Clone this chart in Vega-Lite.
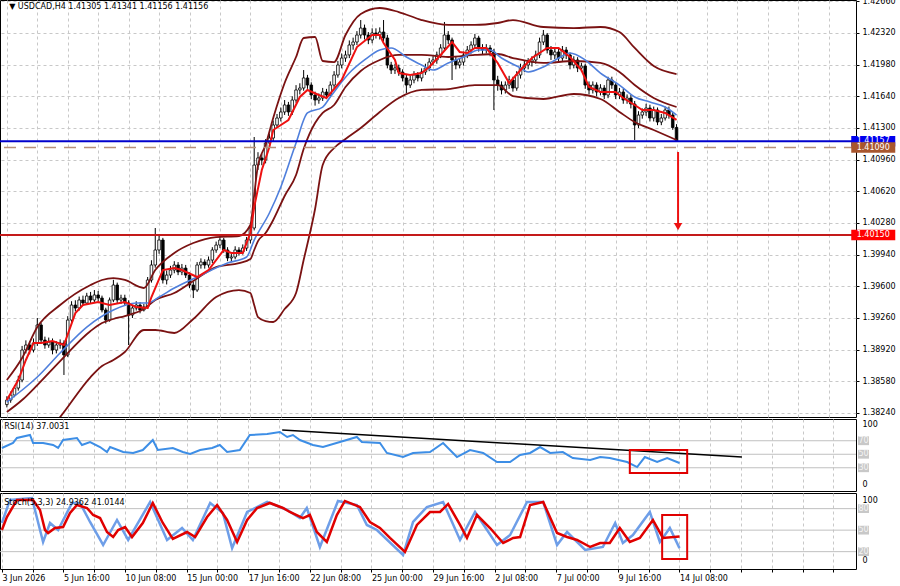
{
"$schema":"https://vega.github.io/schema/vega-lite/v6.json",
"padding":{"left":-4,"top":-4,"right":0,"bottom":0},
"background":"#ffffff",
"spacing":2,
"bounds":"flush",
"config":{"view":{"stroke":"#000000","strokeWidth":1},"axis":{"labelFont":"DejaVu Sans","labelFontSize":8,"labelColor":"#000000","tickColor":"#000000","domain":false,"gridColor":"#c8c8c8","gridDash":[3,3]},"text":{"font":"DejaVu Sans"}},
"datasets":{
"candles":[
{"i":0,"o":1.38330,"h":1.38420,"l":1.38300,"c":1.38379},{"i":1,"o":1.38379,"h":1.38470,"l":1.38350,"c":1.38433},{"i":2,"o":1.38433,"h":1.38540,"l":1.38410,"c":1.38508},{"i":3,"o":1.38508,"h":1.38640,"l":1.38480,"c":1.38594},{"i":4,"o":1.38594,"h":1.38960,"l":1.38570,"c":1.38916},{"i":5,"o":1.38916,"h":1.39020,"l":1.38880,"c":1.38970},{"i":6,"o":1.38970,"h":1.39010,"l":1.38870,"c":1.38916},{"i":7,"o":1.38916,"h":1.39040,"l":1.38890,"c":1.38991},{"i":8,"o":1.38991,"h":1.39260,"l":1.38960,"c":1.39185},{"i":9,"o":1.39185,"h":1.39210,"l":1.38990,"c":1.39023},
{"i":10,"o":1.39023,"h":1.39060,"l":1.38930,"c":1.38970},{"i":11,"o":1.38970,"h":1.39050,"l":1.38940,"c":1.39002},{"i":12,"o":1.39002,"h":1.39040,"l":1.38870,"c":1.38916},{"i":13,"o":1.38916,"h":1.39010,"l":1.38880,"c":1.38970},{"i":14,"o":1.38970,"h":1.39030,"l":1.38930,"c":1.38991},{"i":15,"o":1.38991,"h":1.39020,"l":1.38648,"c":1.38863},{"i":16,"o":1.38863,"h":1.39280,"l":1.38840,"c":1.39238},{"i":17,"o":1.39238,"h":1.39440,"l":1.39210,"c":1.39399},{"i":18,"o":1.39399,"h":1.39450,"l":1.39330,"c":1.39367},{"i":19,"o":1.39367,"h":1.39490,"l":1.39340,"c":1.39453},
{"i":20,"o":1.39453,"h":1.39500,"l":1.39390,"c":1.39421},{"i":21,"o":1.39421,"h":1.39530,"l":1.39400,"c":1.39496},{"i":22,"o":1.39496,"h":1.39540,"l":1.39420,"c":1.39453},{"i":23,"o":1.39453,"h":1.39560,"l":1.39430,"c":1.39507},{"i":24,"o":1.39507,"h":1.39550,"l":1.39440,"c":1.39474},{"i":25,"o":1.39474,"h":1.39500,"l":1.39320,"c":1.39346},{"i":26,"o":1.39346,"h":1.39370,"l":1.39200,"c":1.39238},{"i":27,"o":1.39238,"h":1.39480,"l":1.39220,"c":1.39453},{"i":28,"o":1.39453,"h":1.39670,"l":1.39430,"c":1.39614},{"i":29,"o":1.39614,"h":1.39640,"l":1.39420,"c":1.39453},
{"i":30,"o":1.39453,"h":1.39510,"l":1.39410,"c":1.39474},{"i":31,"o":1.39474,"h":1.39510,"l":1.39390,"c":1.39421},{"i":32,"o":1.39421,"h":1.39450,"l":1.38970,"c":1.39292},{"i":33,"o":1.39292,"h":1.39400,"l":1.39260,"c":1.39367},{"i":34,"o":1.39367,"h":1.39440,"l":1.39340,"c":1.39399},{"i":35,"o":1.39399,"h":1.39430,"l":1.39310,"c":1.39346},{"i":36,"o":1.39346,"h":1.39410,"l":1.39330,"c":1.39378},{"i":37,"o":1.39378,"h":1.39700,"l":1.39360,"c":1.39668},{"i":38,"o":1.39668,"h":1.39880,"l":1.39640,"c":1.39829},{"i":39,"o":1.39829,"h":1.40226,"l":1.39800,"c":1.39990},
{"i":40,"o":1.39990,"h":1.40150,"l":1.39950,"c":1.40097},{"i":41,"o":1.40097,"h":1.40120,"l":1.39630,"c":1.39668},{"i":42,"o":1.39668,"h":1.39770,"l":1.39620,"c":1.39721},{"i":43,"o":1.39721,"h":1.39820,"l":1.39690,"c":1.39775},{"i":44,"o":1.39775,"h":1.39870,"l":1.39740,"c":1.39829},{"i":45,"o":1.39829,"h":1.39860,"l":1.39720,"c":1.39754},{"i":46,"o":1.39754,"h":1.39840,"l":1.39720,"c":1.39796},{"i":47,"o":1.39796,"h":1.39830,"l":1.39690,"c":1.39721},{"i":48,"o":1.39721,"h":1.39750,"l":1.39580,"c":1.39614},{"i":49,"o":1.39614,"h":1.39650,"l":1.39474,"c":1.39560},
{"i":50,"o":1.39560,"h":1.39860,"l":1.39540,"c":1.39829},{"i":51,"o":1.39829,"h":1.39900,"l":1.39790,"c":1.39861},{"i":52,"o":1.39861,"h":1.39890,"l":1.39790,"c":1.39829},{"i":53,"o":1.39829,"h":1.39920,"l":1.39800,"c":1.39882},{"i":54,"o":1.39882,"h":1.40020,"l":1.39850,"c":1.39990},{"i":55,"o":1.39990,"h":1.40080,"l":1.39960,"c":1.40043},{"i":56,"o":1.40043,"h":1.40151,"l":1.40010,"c":1.40097},{"i":57,"o":1.40097,"h":1.40120,"l":1.39960,"c":1.39990},{"i":58,"o":1.39990,"h":1.40020,"l":1.39870,"c":1.39904},{"i":59,"o":1.39904,"h":1.39950,"l":1.39860,"c":1.39915},
{"i":60,"o":1.39915,"h":1.40030,"l":1.39890,"c":1.39990},{"i":61,"o":1.39990,"h":1.40020,"l":1.39930,"c":1.39968},{"i":62,"o":1.39968,"h":1.40050,"l":1.39940,"c":1.40011},{"i":63,"o":1.40011,"h":1.40130,"l":1.39980,"c":1.40097},{"i":64,"o":1.40097,"h":1.40260,"l":1.40060,"c":1.40226},{"i":65,"o":1.40226,"h":1.41203,"l":1.40200,"c":1.40902},{"i":66,"o":1.40902,"h":1.41040,"l":1.40850,"c":1.40978},{"i":67,"o":1.40978,"h":1.41020,"l":1.40900,"c":1.40956},{"i":68,"o":1.40956,"h":1.41180,"l":1.40920,"c":1.41139},{"i":69,"o":1.41139,"h":1.41240,"l":1.41100,"c":1.41192},
{"i":70,"o":1.41192,"h":1.41380,"l":1.41160,"c":1.41332},{"i":71,"o":1.41332,"h":1.41450,"l":1.41300,"c":1.41407},{"i":72,"o":1.41407,"h":1.41520,"l":1.41370,"c":1.41472},{"i":73,"o":1.41472,"h":1.41600,"l":1.41440,"c":1.41547},{"i":74,"o":1.41547,"h":1.41580,"l":1.41430,"c":1.41472},{"i":75,"o":1.41472,"h":1.41640,"l":1.41440,"c":1.41600},{"i":76,"o":1.41600,"h":1.41760,"l":1.41570,"c":1.41708},{"i":77,"o":1.41708,"h":1.41780,"l":1.41660,"c":1.41729},{"i":78,"o":1.41729,"h":1.41922,"l":1.41700,"c":1.41837},{"i":79,"o":1.41837,"h":1.41870,"l":1.41720,"c":1.41761},
{"i":80,"o":1.41761,"h":1.41790,"l":1.41610,"c":1.41654},{"i":81,"o":1.41654,"h":1.41690,"l":1.41540,"c":1.41600},{"i":82,"o":1.41600,"h":1.41670,"l":1.41560,"c":1.41622},{"i":83,"o":1.41622,"h":1.41730,"l":1.41590,"c":1.41686},{"i":84,"o":1.41686,"h":1.41720,"l":1.41610,"c":1.41654},{"i":85,"o":1.41654,"h":1.41800,"l":1.41630,"c":1.41761},{"i":86,"o":1.41761,"h":1.41910,"l":1.41730,"c":1.41869},{"i":87,"o":1.41869,"h":1.42020,"l":1.41840,"c":1.41976},{"i":88,"o":1.41976,"h":1.42100,"l":1.41940,"c":1.42051},{"i":89,"o":1.42051,"h":1.42130,"l":1.42010,"c":1.42084},
{"i":90,"o":1.42084,"h":1.42240,"l":1.42050,"c":1.42191},{"i":91,"o":1.42191,"h":1.42270,"l":1.42140,"c":1.42223},{"i":92,"o":1.42223,"h":1.42340,"l":1.42190,"c":1.42298},{"i":93,"o":1.42298,"h":1.42459,"l":1.42260,"c":1.42373},{"i":94,"o":1.42373,"h":1.42410,"l":1.42250,"c":1.42298},{"i":95,"o":1.42298,"h":1.42330,"l":1.42200,"c":1.42245},{"i":96,"o":1.42245,"h":1.42370,"l":1.42210,"c":1.42320},{"i":97,"o":1.42320,"h":1.42370,"l":1.42260,"c":1.42298},{"i":98,"o":1.42298,"h":1.42380,"l":1.42250,"c":1.42330},{"i":99,"o":1.42330,"h":1.42459,"l":1.42230,"c":1.42266},
{"i":100,"o":1.42266,"h":1.42300,"l":1.41940,"c":1.41976},{"i":101,"o":1.41976,"h":1.42010,"l":1.41880,"c":1.41922},{"i":102,"o":1.41922,"h":1.41990,"l":1.41880,"c":1.41944},{"i":103,"o":1.41944,"h":1.41980,"l":1.41860,"c":1.41901},{"i":104,"o":1.41901,"h":1.41930,"l":1.41800,"c":1.41837},{"i":105,"o":1.41837,"h":1.41870,"l":1.41675,"c":1.41761},{"i":106,"o":1.41761,"h":1.41860,"l":1.41730,"c":1.41815},{"i":107,"o":1.41815,"h":1.41910,"l":1.41780,"c":1.41869},{"i":108,"o":1.41869,"h":1.41900,"l":1.41800,"c":1.41837},{"i":109,"o":1.41837,"h":1.41940,"l":1.41800,"c":1.41901},
{"i":110,"o":1.41901,"h":1.41990,"l":1.41870,"c":1.41944},{"i":111,"o":1.41944,"h":1.42050,"l":1.41910,"c":1.42008},{"i":112,"o":1.42008,"h":1.42070,"l":1.41970,"c":1.42030},{"i":113,"o":1.42030,"h":1.42120,"l":1.41990,"c":1.42084},{"i":114,"o":1.42084,"h":1.42200,"l":1.42050,"c":1.42159},{"i":115,"o":1.42159,"h":1.42438,"l":1.42130,"c":1.42298},{"i":116,"o":1.42298,"h":1.42340,"l":1.42200,"c":1.42245},{"i":117,"o":1.42245,"h":1.42270,"l":1.41815,"c":1.42030},{"i":118,"o":1.42030,"h":1.42070,"l":1.41930,"c":1.41976},{"i":119,"o":1.41976,"h":1.42050,"l":1.41940,"c":1.42008},
{"i":120,"o":1.42008,"h":1.42120,"l":1.41970,"c":1.42084},{"i":121,"o":1.42084,"h":1.42180,"l":1.42050,"c":1.42137},{"i":122,"o":1.42137,"h":1.42230,"l":1.42100,"c":1.42191},{"i":123,"o":1.42191,"h":1.42310,"l":1.42150,"c":1.42266},{"i":124,"o":1.42266,"h":1.42290,"l":1.42120,"c":1.42159},{"i":125,"o":1.42159,"h":1.42200,"l":1.42090,"c":1.42137},{"i":126,"o":1.42137,"h":1.42200,"l":1.42100,"c":1.42159},{"i":127,"o":1.42159,"h":1.42190,"l":1.42070,"c":1.42116},{"i":128,"o":1.42116,"h":1.42150,"l":1.41493,"c":1.41815},{"i":129,"o":1.41815,"h":1.41860,"l":1.41700,"c":1.41761},
{"i":130,"o":1.41761,"h":1.41800,"l":1.41660,"c":1.41708},{"i":131,"o":1.41708,"h":1.41800,"l":1.41670,"c":1.41761},{"i":132,"o":1.41761,"h":1.41860,"l":1.41720,"c":1.41815},{"i":133,"o":1.41815,"h":1.41850,"l":1.41690,"c":1.41729},{"i":134,"o":1.41729,"h":1.41910,"l":1.41700,"c":1.41869},{"i":135,"o":1.41869,"h":1.41990,"l":1.41830,"c":1.41944},{"i":136,"o":1.41944,"h":1.42020,"l":1.41900,"c":1.41976},{"i":137,"o":1.41976,"h":1.42050,"l":1.41930,"c":1.42008},{"i":138,"o":1.42008,"h":1.42070,"l":1.41960,"c":1.42030},{"i":139,"o":1.42030,"h":1.42130,"l":1.41990,"c":1.42084},
{"i":140,"o":1.42084,"h":1.42270,"l":1.42050,"c":1.42223},{"i":141,"o":1.42223,"h":1.42352,"l":1.42190,"c":1.42298},{"i":142,"o":1.42298,"h":1.42320,"l":1.42100,"c":1.42137},{"i":143,"o":1.42137,"h":1.42180,"l":1.42030,"c":1.42084},{"i":144,"o":1.42084,"h":1.42160,"l":1.42040,"c":1.42116},{"i":145,"o":1.42116,"h":1.42150,"l":1.42000,"c":1.42051},{"i":146,"o":1.42051,"h":1.42180,"l":1.42020,"c":1.42137},{"i":147,"o":1.42137,"h":1.42170,"l":1.42040,"c":1.42084},{"i":148,"o":1.42084,"h":1.42110,"l":1.41930,"c":1.41976},{"i":149,"o":1.41976,"h":1.42070,"l":1.41940,"c":1.42030},
{"i":150,"o":1.42030,"h":1.42060,"l":1.41900,"c":1.41944},{"i":151,"o":1.41944,"h":1.42000,"l":1.41900,"c":1.41965},{"i":152,"o":1.41965,"h":1.41990,"l":1.41720,"c":1.41761},{"i":153,"o":1.41761,"h":1.41800,"l":1.41660,"c":1.41708},{"i":154,"o":1.41708,"h":1.41800,"l":1.41670,"c":1.41761},{"i":155,"o":1.41761,"h":1.41790,"l":1.41640,"c":1.41686},{"i":156,"o":1.41686,"h":1.41770,"l":1.41650,"c":1.41729},{"i":157,"o":1.41729,"h":1.41760,"l":1.41610,"c":1.41654},{"i":158,"o":1.41654,"h":1.41850,"l":1.41620,"c":1.41815},{"i":159,"o":1.41815,"h":1.41850,"l":1.41720,"c":1.41761},
{"i":160,"o":1.41761,"h":1.41790,"l":1.41610,"c":1.41654},{"i":161,"o":1.41654,"h":1.41730,"l":1.41610,"c":1.41686},{"i":162,"o":1.41686,"h":1.41720,"l":1.41560,"c":1.41600},{"i":163,"o":1.41600,"h":1.41660,"l":1.41560,"c":1.41622},{"i":164,"o":1.41622,"h":1.41660,"l":1.41510,"c":1.41557},{"i":165,"o":1.41557,"h":1.41590,"l":1.41171,"c":1.41332},{"i":166,"o":1.41332,"h":1.41480,"l":1.41300,"c":1.41439},{"i":167,"o":1.41439,"h":1.41510,"l":1.41400,"c":1.41472},{"i":168,"o":1.41472,"h":1.41560,"l":1.41430,"c":1.41514},{"i":169,"o":1.41514,"h":1.41550,"l":1.41370,"c":1.41407},
{"i":170,"o":1.41407,"h":1.41530,"l":1.41370,"c":1.41493},{"i":171,"o":1.41493,"h":1.41520,"l":1.41330,"c":1.41364},{"i":172,"o":1.41364,"h":1.41450,"l":1.41330,"c":1.41407},{"i":173,"o":1.41407,"h":1.41530,"l":1.41380,"c":1.41493},{"i":174,"o":1.41493,"h":1.41530,"l":1.41400,"c":1.41439},{"i":175,"o":1.41439,"h":1.41470,"l":1.41280,"c":1.41305},{"i":176,"o":1.41305,"h":1.41341,"l":1.41156,"c":1.41156}
],
"bb":[
{"i":0,"u":1.38594,"m":1.38250,"l":1.37907},{"i":4,"u":1.38830,"m":1.38379,"l":1.37928},{"i":8,"u":1.39163,"m":1.38540,"l":1.37918},{"i":14,"u":1.39399,"m":1.38798,"l":1.38197},{"i":22,"u":1.39614,"m":1.39120,"l":1.38626},{"i":25,"u":1.39668,"m":1.39206,"l":1.38744},{"i":28,"u":1.39689,"m":1.39249,"l":1.38809},{"i":31,"u":1.39668,"m":1.39281,"l":1.38895},{"i":36,"u":1.39582,"m":1.39356,"l":1.39131},{"i":39,"u":1.39775,"m":1.39453,"l":1.39131},{"i":44,"u":1.39958,"m":1.39528,"l":1.39099},{"i":49,"u":1.40065,"m":1.39657,"l":1.39249},{"i":55,"u":1.40129,"m":1.39807,"l":1.39485},{"i":61,"u":1.40140,"m":1.39850,"l":1.39560},{"i":64,"u":1.40258,"m":1.39893,"l":1.39528},{"i":65,"u":1.40580,"m":1.39990,"l":1.39399},{"i":66,"u":1.40902,"m":1.40086,"l":1.39270},{"i":68,"u":1.41117,"m":1.40172,"l":1.39227},{"i":70,"u":1.41407,"m":1.40312,"l":1.39217},{"i":73,"u":1.41783,"m":1.40570,"l":1.39356},{"i":76,"u":1.42062,"m":1.40795,"l":1.39528},{"i":78,"u":1.42266,"m":1.41074,"l":1.39882},{"i":81,"u":1.42277,"m":1.41353,"l":1.40430},{"i":83,"u":1.42019,"m":1.41461,"l":1.40902},{"i":86,"u":1.42008,"m":1.41547,"l":1.41085},{"i":89,"u":1.42298,"m":1.41740,"l":1.41182},{"i":93,"u":1.42524,"m":1.41912,"l":1.41300},{"i":98,"u":1.42588,"m":1.42030,"l":1.41472},{"i":103,"u":1.42545,"m":1.42084,"l":1.41622},{"i":109,"u":1.42459,"m":1.42084,"l":1.41708},{"i":116,"u":1.42406,"m":1.42062,"l":1.41718},{"i":123,"u":1.42406,"m":1.42084,"l":1.41761},{"i":129,"u":1.42427,"m":1.42094,"l":1.41761},{"i":133,"u":1.42459,"m":1.42051,"l":1.41643},{"i":141,"u":1.42384,"m":1.41998,"l":1.41611},{"i":149,"u":1.42373,"m":1.42019,"l":1.41665},{"i":156,"u":1.42384,"m":1.41998,"l":1.41611},{"i":161,"u":1.42330,"m":1.41901,"l":1.41472},{"i":165,"u":1.42159,"m":1.41761,"l":1.41364},{"i":170,"u":1.41965,"m":1.41622,"l":1.41278},{"i":176,"u":1.41879,"m":1.41525,"l":1.41171}
],
"blue":[
{"i":0,"v":1.38358},{"i":8,"v":1.38626},{"i":14,"v":1.38884},{"i":21,"v":1.39163},{"i":28,"v":1.39346},{"i":34,"v":1.39421},{"i":37,"v":1.39421},{"i":40,"v":1.39485},{"i":44,"v":1.39582},{"i":50,"v":1.39700},{"i":58,"v":1.39850},{"i":63,"v":1.39915},{"i":65,"v":1.40097},{"i":69,"v":1.40387},{"i":72,"v":1.40666},{"i":76,"v":1.41139},{"i":79,"v":1.41461},{"i":83,"v":1.41525},{"i":85,"v":1.41633},{"i":90,"v":1.41890},{"i":94,"v":1.42030},{"i":98,"v":1.42137},{"i":101,"v":1.42159},{"i":105,"v":1.42062},{"i":109,"v":1.41976},{"i":112,"v":1.41922},{"i":116,"v":1.41998},{"i":120,"v":1.42062},{"i":124,"v":1.42137},{"i":127,"v":1.42137},{"i":130,"v":1.42051},{"i":135,"v":1.41944},{"i":137,"v":1.41901},{"i":141,"v":1.41955},{"i":145,"v":1.42051},{"i":148,"v":1.42105},{"i":152,"v":1.42030},{"i":156,"v":1.41890},{"i":161,"v":1.41761},{"i":165,"v":1.41633},{"i":169,"v":1.41579},{"i":173,"v":1.41525},{"i":176,"v":1.41439}
],
"red":[
{"i":0,"v":1.38379},{"i":3,"v":1.38594},{"i":5,"v":1.38809},{"i":7,"v":1.38991},{"i":9,"v":1.38991},{"i":12,"v":1.39013},{"i":15,"v":1.38970},{"i":18,"v":1.39313},{"i":20,"v":1.39399},{"i":24,"v":1.39431},{"i":27,"v":1.39399},{"i":31,"v":1.39431},{"i":34,"v":1.39378},{"i":37,"v":1.39367},{"i":38,"v":1.39485},{"i":41,"v":1.39775},{"i":44,"v":1.39796},{"i":46,"v":1.39775},{"i":50,"v":1.39700},{"i":53,"v":1.39775},{"i":57,"v":1.39990},{"i":59,"v":1.39958},{"i":62,"v":1.39958},{"i":64,"v":1.40172},{"i":65,"v":1.40451},{"i":67,"v":1.40849},{"i":69,"v":1.41096},{"i":70,"v":1.41278},{"i":74,"v":1.41386},{"i":77,"v":1.41633},{"i":79,"v":1.41708},{"i":82,"v":1.41654},{"i":84,"v":1.41622},{"i":88,"v":1.41815},{"i":92,"v":1.42169},{"i":96,"v":1.42298},{"i":98,"v":1.42298},{"i":99,"v":1.42212},{"i":102,"v":1.42030},{"i":103,"v":1.41890},{"i":106,"v":1.41869},{"i":109,"v":1.41890},{"i":111,"v":1.41955},{"i":114,"v":1.42084},{"i":117,"v":1.42223},{"i":119,"v":1.42116},{"i":121,"v":1.42105},{"i":123,"v":1.42159},{"i":126,"v":1.42159},{"i":129,"v":1.41998},{"i":132,"v":1.41783},{"i":135,"v":1.41922},{"i":138,"v":1.42051},{"i":142,"v":1.42159},{"i":145,"v":1.42159},{"i":148,"v":1.42062},{"i":151,"v":1.41922},{"i":153,"v":1.41740},{"i":156,"v":1.41686},{"i":160,"v":1.41686},{"i":162,"v":1.41622},{"i":165,"v":1.41547},{"i":167,"v":1.41493},{"i":170,"v":1.41493},{"i":173,"v":1.41461},{"i":176,"v":1.41386}
],
"levels":[{"name":"res","p":1.41157,"label":"1.41157"},{"name":"cur","p":1.41090,"label":"1.41090"},{"name":"tgt","p":1.40150,"label":"1.40150"}],
"arrow":[{"i":176.4,"p0":1.41042,"p1":1.40280,"tip":1.40240}],
"rsi":[
{"i":0,"v":59.3},{"i":2.9,"v":66.7},{"i":3.9,"v":74.1},{"i":7.3,"v":78.5},{"i":8.1,"v":66.7},{"i":10.7,"v":66.7},{"i":13.3,"v":63.7},{"i":14.6,"v":59.3},{"i":15.9,"v":71.1},{"i":19.5,"v":74.1},{"i":20.8,"v":63.7},{"i":22.9,"v":68.1},{"i":25.5,"v":60.7},{"i":27.3,"v":53.3},{"i":28.1,"v":60.7},{"i":31.5,"v":53.3},{"i":34.1,"v":51.9},{"i":36.6,"v":56.3},{"i":39.2,"v":71.1},{"i":40.5,"v":56.3},{"i":44.4,"v":59.3},{"i":47,"v":53.3},{"i":48.9,"v":50.4},{"i":51.5,"v":56.3},{"i":54.6,"v":59.3},{"i":56.6,"v":63.7},{"i":58.5,"v":53.3},{"i":61.8,"v":56.3},{"i":64.4,"v":78.5},{"i":68.9,"v":80.0},{"i":72.2,"v":83.0},{"i":74.1,"v":75.6},{"i":75.6,"v":78.5},{"i":77.4,"v":71.1},{"i":80.8,"v":63.7},{"i":83.4,"v":60.7},{"i":87.8,"v":68.1},{"i":92.2,"v":75.6},{"i":93.5,"v":68.1},{"i":98.2,"v":66.7},{"i":100,"v":51.9},{"i":104.2,"v":45.9},{"i":106.8,"v":51.9},{"i":111.2,"v":53.3},{"i":114.6,"v":66.7},{"i":118.2,"v":45.9},{"i":121.6,"v":56.3},{"i":125,"v":51.9},{"i":128.6,"v":38.5},{"i":132,"v":38.5},{"i":134.6,"v":48.9},{"i":137.2,"v":51.9},{"i":139.8,"v":60.7},{"i":142.4,"v":51.9},{"i":145.7,"v":53.3},{"i":148.3,"v":44.4},{"i":152.8,"v":41.5},{"i":155.4,"v":45.9},{"i":157.9,"v":44.4},{"i":162.4,"v":38.5},{"i":165,"v":31.1},{"i":167,"v":45.9},{"i":170.2,"v":38.5},{"i":172.8,"v":44.4},{"i":176,"v":37.0}
],
"trend":[{"i":72.8,"v":85.9},{"i":192.2,"v":45.9}],
"rsiBox":[{"i0":163.1,"i1":178,"v0":22.2,"v1":56.3}],
"rsiLevels":[{"v":70,"label":"70"},{"v":50,"label":"50"},{"v":30,"label":"30"}],
"stK":[
{"i":0,"v":60.0},{"i":2.1,"v":92.1},{"i":7.8,"v":94.8},{"i":10.7,"v":33.5},{"i":12.5,"v":60.0},{"i":14.6,"v":50.2},{"i":18.2,"v":87.9},{"i":20.3,"v":87.9},{"i":22.9,"v":61.4},{"i":26.3,"v":29.3},{"i":29.9,"v":64.2},{"i":32.8,"v":36.3},{"i":38.5,"v":89.3},{"i":42.9,"v":36.3},{"i":46.8,"v":53.0},{"i":49.6,"v":36.3},{"i":54.1,"v":87.9},{"i":57.4,"v":73.9},{"i":59.8,"v":25.1},{"i":63.7,"v":75.3},{"i":68.9,"v":89.3},{"i":74.1,"v":78.1},{"i":77.4,"v":66.9},{"i":79.2,"v":80.9},{"i":82.6,"v":26.5},{"i":87.3,"v":90.7},{"i":92.2,"v":85.1},{"i":94.8,"v":57.2},{"i":97.4,"v":50.2},{"i":104.2,"v":15.3},{"i":106.8,"v":61.4},{"i":110.4,"v":82.3},{"i":114.6,"v":89.3},{"i":119,"v":36.3},{"i":122.9,"v":75.3},{"i":128.6,"v":29.3},{"i":132,"v":43.2},{"i":136.4,"v":89.3},{"i":140.6,"v":89.3},{"i":144.2,"v":29.3},{"i":146.8,"v":47.4},{"i":151.5,"v":22.3},{"i":156.1,"v":26.5},{"i":159.3,"v":60.0},{"i":161.3,"v":32.1},{"i":163.9,"v":43.2},{"i":168.3,"v":75.3},{"i":170.9,"v":33.5},{"i":173.5,"v":53.0},{"i":176,"v":24.9}
],
"stD":[
{"i":0,"v":50.2},{"i":1.3,"v":68.3},{"i":3.9,"v":92.1},{"i":8.1,"v":92.1},{"i":9.9,"v":78.1},{"i":11.2,"v":50.2},{"i":12,"v":46.0},{"i":13.8,"v":53.0},{"i":15.9,"v":54.4},{"i":17.7,"v":73.9},{"i":19.5,"v":85.1},{"i":22.1,"v":80.9},{"i":23.7,"v":71.1},{"i":25.5,"v":66.9},{"i":27.3,"v":47.4},{"i":28.9,"v":40.4},{"i":30.2,"v":50.2},{"i":32,"v":54.4},{"i":33.8,"v":40.4},{"i":36.6,"v":60.0},{"i":39.2,"v":87.9},{"i":41.8,"v":60.0},{"i":44.4,"v":37.7},{"i":48.1,"v":47.4},{"i":50.2,"v":40.4},{"i":53.3,"v":68.3},{"i":55.9,"v":85.1},{"i":58.5,"v":64.2},{"i":61.1,"v":33.5},{"i":63.7,"v":64.2},{"i":66.3,"v":80.9},{"i":69.6,"v":87.9},{"i":73,"v":80.9},{"i":74.8,"v":75.3},{"i":78.2,"v":66.9},{"i":80,"v":71.1},{"i":81.8,"v":47.4},{"i":84.4,"v":33.5},{"i":87,"v":71.1},{"i":89.1,"v":90.7},{"i":93,"v":82.3},{"i":95.6,"v":61.4},{"i":98.2,"v":53.0},{"i":100.8,"v":39.1},{"i":104.7,"v":19.5},{"i":107.8,"v":57.2},{"i":111.2,"v":75.3},{"i":113.8,"v":75.3},{"i":115.9,"v":86.5},{"i":119,"v":57.2},{"i":120.8,"v":39.1},{"i":123.4,"v":71.1},{"i":126.8,"v":53.0},{"i":130.2,"v":32.1},{"i":132.8,"v":39.1},{"i":134.6,"v":40.4},{"i":137.2,"v":85.1},{"i":140.6,"v":89.3},{"i":144.2,"v":46.0},{"i":146.8,"v":40.4},{"i":149.4,"v":36.3},{"i":152.8,"v":26.5},{"i":155.4,"v":32.1},{"i":157.9,"v":32.1},{"i":160.5,"v":53.0},{"i":163.1,"v":33.5},{"i":165.7,"v":39.1},{"i":169.1,"v":64.2},{"i":171.7,"v":39.1},{"i":176,"v":41.0}
],
"stBox":[{"i0":171.5,"i1":178,"v0":9.8,"v1":71.1}],
"stLevels":[{"v":80,"label":"80"},{"v":50,"label":"50"},{"v":20,"label":"20"}],
"one":[{"k":1}]
},
"vconcat":[
{
"width":856,"height":417,
"encoding":{
"x":{"type":"quantitative","scale":{"domain":[-0.49,221.85],"nice":false,"zero":false},"axis":{"values":[0,8,16,24,32,40,48,56,64,72,80,88,96,104,112,120,128,136,144,152,160,168,176,184,192,200,208,216],"labels":false,"ticks":false,"grid":true,"title":null}},
"y":{"type":"quantitative","scale":{"domain":[1.38197,1.42674],"nice":false,"zero":false},"axis":{"orient":"right","values":[1.3824,1.3858,1.3892,1.3926,1.396,1.3994,1.4028,1.4062,1.4096,1.413,1.4164,1.4198,1.4232,1.4266],"format":".5f","grid":true,"title":null,"tickSize":3,"labelPadding":3}}
},
"layer":[
{"data":{"name":"candles"},"mark":{"type":"rule","color":"#000000","strokeWidth":1},
"encoding":{"x":{"field":"i"},"y":{"field":"l"},"y2":{"field":"h"}}},
{"data":{"name":"candles"},"mark":{"type":"bar","width":2.6,"stroke":"#000000","strokeWidth":0.8},
"encoding":{"x":{"field":"i"},"y":{"field":"o"},"y2":{"field":"c"},
"fill":{"condition":{"test":"datum.c >= datum.o","value":"#ffffff"},"value":"#000000"}}},
{"data":{"name":"bb"},"mark":{"type":"line","color":"#7a1212","strokeWidth":1.8,"interpolate":"monotone","clip":true},
"encoding":{"x":{"field":"i"},"y":{"field":"u"}}},
{"data":{"name":"bb"},"mark":{"type":"line","color":"#7a1212","strokeWidth":1.8,"interpolate":"monotone","clip":true},
"encoding":{"x":{"field":"i"},"y":{"field":"m"}}},
{"data":{"name":"bb"},"mark":{"type":"line","color":"#7a1212","strokeWidth":1.8,"interpolate":"monotone","clip":true},
"encoding":{"x":{"field":"i"},"y":{"field":"l"}}},
{"data":{"name":"blue"},"mark":{"type":"line","color":"#4f7fdc","strokeWidth":1.6,"interpolate":"monotone","clip":true},
"encoding":{"x":{"field":"i"},"y":{"field":"v"}}},
{"data":{"name":"red"},"mark":{"type":"line","color":"#ee1111","strokeWidth":2,"clip":true},
"encoding":{"x":{"field":"i"},"y":{"field":"v"}}},
{"data":{"name":"levels"},"transform":[{"filter":"datum.name == 'cur'"}],"mark":{"type":"rule","color":"#b89078","strokeWidth":1.5,"strokeDash":[12,8]},
"encoding":{"y":{"field":"p"}}},
{"data":{"name":"levels"},"transform":[{"filter":"datum.name == 'res'"}],"mark":{"type":"rule","color":"#0000cc","strokeWidth":2},
"encoding":{"y":{"field":"p"}}},
{"data":{"name":"levels"},"transform":[{"filter":"datum.name == 'tgt'"}],"mark":{"type":"rule","color":"#c41a1a","strokeWidth":2},
"encoding":{"y":{"field":"p"}}},
{"data":{"name":"arrow"},"mark":{"type":"rule","color":"#ee1111","strokeWidth":2},
"encoding":{"x":{"field":"i"},"y":{"field":"p0"},"y2":{"field":"p1"}}},
{"data":{"name":"arrow"},"mark":{"type":"point","shape":"triangle-down","filled":true,"color":"#ee1111","size":70,"opacity":1},
"encoding":{"x":{"field":"i"},"y":{"field":"tip"}}},
{"data":{"name":"levels"},"transform":[{"filter":"datum.name == 'res'"}],"mark":{"type":"point","shape":"M-1,-0.24H1V0.24H-1Z","filled":true,"color":"#0000ee","size":1936,"opacity":1,"clip":false},
"encoding":{"x":{"datum":227.7},"y":{"field":"p"}}},
{"data":{"name":"levels"},"transform":[{"filter":"datum.name == 'res'"}],"mark":{"type":"text","color":"#ffffff","fontSize":8,"baseline":"middle","align":"center","clip":false},
"encoding":{"x":{"datum":227.7},"y":{"field":"p"},"text":{"field":"label"}}},
{"data":{"name":"levels"},"transform":[{"filter":"datum.name == 'cur'"}],"mark":{"type":"point","shape":"M-1,-0.24H1V0.24H-1Z","filled":true,"color":"#a8562e","size":1936,"opacity":1,"clip":false},
"encoding":{"x":{"datum":227.7},"y":{"field":"p"}}},
{"data":{"name":"levels"},"transform":[{"filter":"datum.name == 'cur'"}],"mark":{"type":"text","color":"#ffffff","fontSize":8,"baseline":"middle","align":"center","clip":false},
"encoding":{"x":{"datum":227.7},"y":{"field":"p"},"text":{"field":"label"}}},
{"data":{"name":"levels"},"transform":[{"filter":"datum.name == 'tgt'"}],"mark":{"type":"point","shape":"M-1,-0.24H1V0.24H-1Z","filled":true,"color":"#ff0000","size":1936,"opacity":1,"clip":false},
"encoding":{"x":{"datum":227.7},"y":{"field":"p"}}},
{"data":{"name":"levels"},"transform":[{"filter":"datum.name == 'tgt'"}],"mark":{"type":"text","color":"#ffffff","fontSize":8,"baseline":"middle","align":"center","clip":false},
"encoding":{"x":{"datum":227.7},"y":{"field":"p"},"text":{"field":"label"}}},
{"data":{"name":"one"},"mark":{"type":"text","text":"▼ USDCAD,H4  1.41305 1.41341 1.41156 1.41156","fontSize":8,"align":"left","baseline":"middle","color":"#000000"},
"encoding":{"x":{"datum":0.6},"y":{"datum":1.42599}}}
]
},
{
"width":856,"height":72,
"encoding":{
"x":{"type":"quantitative","scale":{"domain":[-0.49,221.85],"nice":false,"zero":false},"axis":{"values":[0,8,16,24,32,40,48,56,64,72,80,88,96,104,112,120,128,136,144,152,160,168,176,184,192,200,208,216],"labels":false,"ticks":false,"grid":true,"title":null}},
"y":{"type":"quantitative","scale":{"domain":[-4.4,102.2],"nice":false,"zero":false},"axis":{"orient":"right","values":[5.5,93.5],"labelExpr":"datum.value < 50 ? '0' : '100'","labelFlush":false,"ticks":false,"grid":false,"title":null,"labelPadding":6}}
},
"layer":[
{"data":{"name":"rsiLevels"},"mark":{"type":"rule","color":"#c0c0c0","strokeWidth":1},
"encoding":{"y":{"field":"v"}}},
{"data":{"name":"rsiLevels"},"mark":{"type":"point","shape":"M-1,-0.8H1V0.8H-1Z","filled":true,"color":"#c8c8c8","size":121,"opacity":1,"clip":false},
"encoding":{"x":{"datum":223.8},"y":{"field":"v"}}},
{"data":{"name":"rsiLevels"},"mark":{"type":"text","color":"#f4f4f4","fontSize":8,"align":"center","baseline":"middle","clip":false},
"encoding":{"x":{"datum":223.8},"y":{"field":"v"},"text":{"field":"label"}}},
{"data":{"name":"rsi"},"mark":{"type":"line","color":"#3d8ee6","strokeWidth":2},
"encoding":{"x":{"field":"i"},"y":{"field":"v"}}},
{"data":{"name":"trend"},"mark":{"type":"line","color":"#000000","strokeWidth":1.5},
"encoding":{"x":{"field":"i"},"y":{"field":"v"}}},
{"data":{"name":"rsiBox"},"mark":{"type":"rect","fillOpacity":0,"stroke":"#e00000","strokeWidth":2},
"encoding":{"x":{"field":"i0"},"x2":{"field":"i1"},"y":{"field":"v0"},"y2":{"field":"v1"}}},
{"data":{"name":"one"},"mark":{"type":"text","text":"RSI(14) 37.0031","fontSize":8,"align":"left","baseline":"middle","color":"#000000"},
"encoding":{"x":{"datum":0.6},"y":{"datum":90}}}
]
},
{
"width":856,"height":76,
"encoding":{
"x":{"type":"quantitative","scale":{"domain":[-0.49,221.85],"nice":false,"zero":false},"axis":{"values":[0,8,16,24,32,40,48,56,64,72,80,88,96,104,112,120,128,136,144,152,160,168,176,184,192,200,208,216],"grid":true,"ticks":true,"tickSize":3,"title":null,"labelAlign":"left","labelPadding":2,"labelFontSize":8,"labelOverlap":false,"labelExpr":"(datum.value % 16 == 0 && datum.value <= 176) ? ['3 Jun 2026','5 Jun 16:00','10 Jun 08:00','15 Jun 00:00','17 Jun 16:00','22 Jun 08:00','25 Jun 00:00','29 Jun 16:00','2 Jul 08:00','7 Jul 00:00','9 Jul 16:00','14 Jul 08:00'][datum.value/16] : ''"}},
"y":{"type":"quantitative","scale":{"domain":[-4.2,101.8],"nice":false,"zero":false},"axis":{"orient":"right","values":[7,90.7],"labelExpr":"datum.value < 50 ? '0' : '100'","labelFlush":false,"ticks":false,"grid":false,"title":null,"labelPadding":6}}
},
"layer":[
{"data":{"name":"stLevels"},"mark":{"type":"rule","color":"#c0c0c0","strokeWidth":1},
"encoding":{"y":{"field":"v"}}},
{"data":{"name":"stLevels"},"mark":{"type":"point","shape":"M-1,-0.8H1V0.8H-1Z","filled":true,"color":"#c8c8c8","size":121,"opacity":1,"clip":false},
"encoding":{"x":{"datum":223.8},"y":{"field":"v"}}},
{"data":{"name":"stLevels"},"mark":{"type":"text","color":"#f4f4f4","fontSize":8,"align":"center","baseline":"middle","clip":false},
"encoding":{"x":{"datum":223.8},"y":{"field":"v"},"text":{"field":"label"}}},
{"data":{"name":"stK"},"mark":{"type":"line","color":"#6e9ee8","strokeWidth":2.5},
"encoding":{"x":{"field":"i"},"y":{"field":"v"}}},
{"data":{"name":"stD"},"mark":{"type":"line","color":"#e00000","strokeWidth":2.5},
"encoding":{"x":{"field":"i"},"y":{"field":"v"}}},
{"data":{"name":"stBox"},"mark":{"type":"rect","fillOpacity":0,"stroke":"#e00000","strokeWidth":2},
"encoding":{"x":{"field":"i0"},"x2":{"field":"i1"},"y":{"field":"v0"},"y2":{"field":"v1"}}},
{"data":{"name":"one"},"mark":{"type":"text","text":"Stoch(5,3,3) 24.9362 41.0144","fontSize":8,"align":"left","baseline":"middle","color":"#000000"},
"encoding":{"x":{"datum":0.6},"y":{"datum":88}}}
]
}
]
}
